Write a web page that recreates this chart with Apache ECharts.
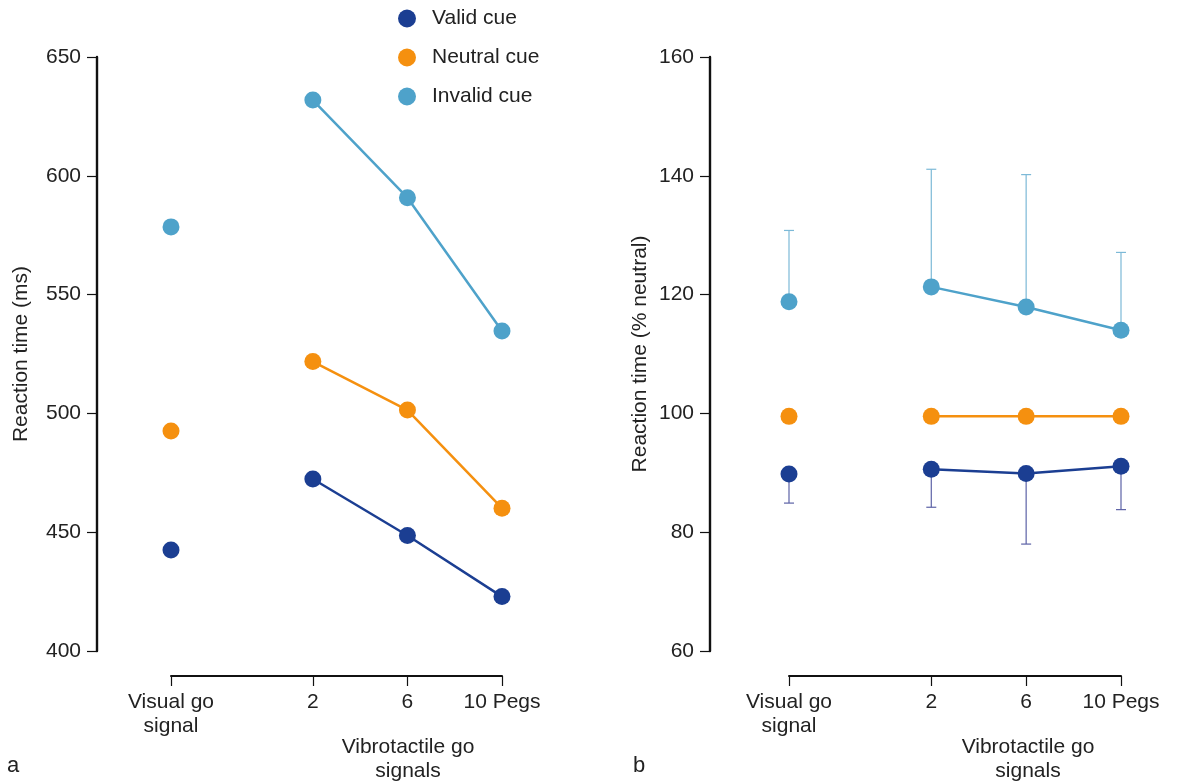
<!DOCTYPE html>
<html>
<head>
<meta charset="utf-8">
<script src="https://cdn.jsdelivr.net/npm/echarts@6/dist/echarts.min.js"></script>
<style>
html,body{margin:0;padding:0;background:#fff;}
#chart{width:1203px;height:781px;}
</style>
</head>
<body>
<div id="chart"></div>
<script>
// ---------- DATA ----------
const tickLabels = ['Visual go\nsignal', '2', '6', '10 Pegs'];
// category slots (blank slots give the wider gap after the visual condition)
const xSlots = ['Visual go\nsignal', '', '', '2', '', '6', '', '10 Pegs'];
const cueNames = ['Valid cue', 'Neutral cue', 'Invalid cue'];

// Panel a: reaction time (ms)
const rtValid   = [442.5, 472.4, 448.6, 422.9];
const rtNeutral = [492.6, 521.8, 501.4, 460.1];
const rtInvalid = [578.5, 631.9, 590.8, 534.7];

// Panel b: reaction time (% neutral)
const pctValid   = [89.8, 90.6, 89.9, 91.1];
const pctNeutral = [99.5, 99.5, 99.5, 99.5];
const pctInvalid = [118.8, 121.3, 117.9, 114.0];
// error bar ends
const pctValidLower   = [84.9, 84.2, 78.0, 83.8];
const pctInvalidUpper = [130.8, 141.1, 140.2, 127.1];

const yTicksA = {min: 400, max: 650, interval: 50};
const yTicksB = {min: 60, max: 160, interval: 20};

// ---------- STYLE ----------
const FONT = '"Liberation Sans", Arial, Helvetica, sans-serif';
const TXT = '#222';
const colors = ['#1b3e92', '#f5900f', '#4ea2ca'];
const errColors = ['#5c62a6', '#f5900f', '#7cb9d7'];

const slotIdx = tickLabels.map(l => xSlots.indexOf(l));
const isReal = (i, v) => v !== '';

function visualOnly(vals) {
  return xSlots.map((s, i) => i === slotIdx[0] ? vals[0] : '-');
}
function linePart(vals) {
  return xSlots.map((s, i) => {
    const k = slotIdx.indexOf(i);
    return k >= 1 ? vals[k] : '-';
  });
}

function xAxisCfg(gi) {
  return {
    gridIndex: gi, type: 'category', data: xSlots, boundaryGap: false, offset: 25,
    axisLine: {show: true, lineStyle: {color: '#111', width: 2}},
    axisTick: {show: true, length: 10, interval: isReal, lineStyle: {color: '#111', width: 1.2}},
    axisLabel: {interval: isReal, margin: 14, fontSize: 21, lineHeight: 24, color: TXT, fontFamily: FONT},
    splitLine: {show: false}
  };
}
function yAxisCfg(gi, t, name, offset, gap) {
  return {
    gridIndex: gi, type: 'value', min: t.min, max: t.max, interval: t.interval, offset: offset,
    name: name, nameLocation: 'middle', nameGap: gap,
    nameTextStyle: {fontSize: 21, color: TXT, fontFamily: FONT},
    axisLine: {show: true, lineStyle: {color: '#111', width: 2.4}},
    axisTick: {show: true, length: 10, lineStyle: {color: '#111', width: 1.2}},
    axisLabel: {margin: 16, fontSize: 21, color: TXT, fontFamily: FONT},
    splitLine: {show: false}
  };
}

const series = [];
function addPanel(gi, sets) {
  sets.forEach((vals, c) => {
    const common = {
      name: cueNames[c], type: 'line', xAxisIndex: gi, yAxisIndex: gi,
      symbol: 'circle', symbolSize: 17, clip: false, z: 3,
      itemStyle: {color: colors[c]},
      lineStyle: {color: colors[c], width: 2.5}
    };
    series.push(Object.assign({}, common, {data: visualOnly(vals)}));
    series.push(Object.assign({}, common, {data: linePart(vals), connectNulls: true}));
  });
}
addPanel(0, [rtValid, rtNeutral, rtInvalid]);
addPanel(1, [pctValid, pctNeutral, pctInvalid]);

function errSeries(name, means, ends, color) {
  return {
    name: name, type: 'custom', xAxisIndex: 1, yAxisIndex: 1, z: 1,
    data: means.map((m, i) => [slotIdx[i], m, ends[i]]),
    renderItem: function (params, api) {
      const p1 = api.coord([api.value(0), api.value(1)]);
      const p2 = api.coord([api.value(0), api.value(2)]);
      const st = {stroke: color, lineWidth: 1.2};
      return {
        type: 'group', children: [
          {type: 'line', shape: {x1: p1[0], y1: p1[1], x2: p2[0], y2: p2[1]}, style: st},
          {type: 'line', shape: {x1: p2[0] - 5, y1: p2[1], x2: p2[0] + 5, y2: p2[1]}, style: st}
        ]
      };
    }
  };
}
series.push(errSeries('Valid cue', pctValid, pctValidLower, errColors[0]));
series.push(errSeries('Invalid cue', pctInvalid, pctInvalidUpper, errColors[2]));

const chart = echarts.init(document.getElementById('chart'), null, {renderer: 'canvas'});
chart.setOption({
  backgroundColor: '#fff',
  animation: false,
  textStyle: {fontFamily: FONT},
  legend: {
    data: cueNames, orient: 'vertical', left: 398, top: 8, padding: 0,
    icon: 'circle', itemWidth: 40, itemHeight: 18, itemGap: 18,
    textStyle: {fontSize: 21, lineHeight: 21, color: TXT, fontFamily: FONT}
  },
  grid: [
    {left: 171, width: 331, top: 57, height: 594},
    {left: 789, width: 332, top: 57, height: 594}
  ],
  xAxis: [xAxisCfg(0), xAxisCfg(1)],
  yAxis: [
    yAxisCfg(0, yTicksA, 'Reaction time (ms)', 74, 65),
    yAxisCfg(1, yTicksB, 'Reaction time (% neutral)', 79, 59)
  ],
  graphic: [
    {type: 'text', left: 7, top: 755, style: {text: 'a', fontSize: 22, fill: TXT, fontFamily: FONT}},
    {type: 'text', left: 633, top: 755, style: {text: 'b', fontSize: 22, fill: TXT, fontFamily: FONT}},
    {type: 'text', x: 408, y: 735, style: {text: 'Vibrotactile go\nsignals', textAlign: 'center', fontSize: 21, lineHeight: 24, fill: TXT, fontFamily: FONT}},
    {type: 'text', x: 1028, y: 735, style: {text: 'Vibrotactile go\nsignals', textAlign: 'center', fontSize: 21, lineHeight: 24, fill: TXT, fontFamily: FONT}}
  ],
  series: series
});
</script>
</body>
</html>
